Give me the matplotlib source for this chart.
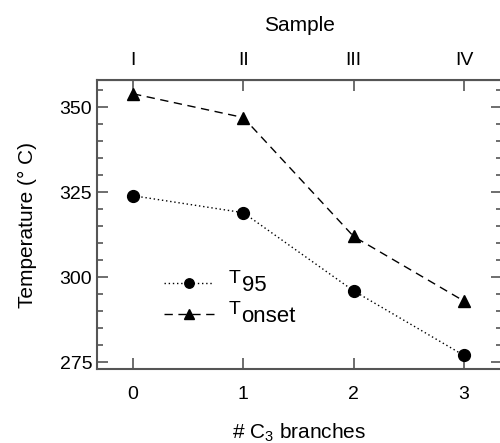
import numpy as np
import matplotlib
matplotlib.use('Agg')
import matplotlib.pyplot as plt
from matplotlib.ticker import MultipleLocator

plt.rcParams['font.family'] = ['Liberation Sans', 'DejaVu Sans']
plt.rcParams['mathtext.fontset'] = 'custom'
plt.rcParams['mathtext.rm'] = 'Liberation Sans'
plt.rcParams['mathtext.it'] = 'Liberation Sans'

branches = [0, 1, 2, 3]
samples = ['I', 'II', 'III', 'IV']
t95 = [324, 319, 296, 277]
tonset = [354, 347, 312, 293]
# legend: a small "T" followed by a full-size subscript, as in the original
series_sub = ['95', 'onset']

fig = plt.figure(figsize=(5.0, 4.43), dpi=100)
ax = fig.add_axes([0.194, 0.167, 0.81, 0.652])

ax.plot(branches, t95, color='black', linestyle=(0, (1, 2)), linewidth=1.0,
        marker='o', markersize=8.5, label=series_sub[0])
ax.plot(branches, tonset, color='black', linestyle=(0, (6, 4)), linewidth=1.0,
        marker='^', markersize=8.5, label=series_sub[1])

ax.set_xlim(-0.327, 3.345)
ax.set_ylim(273, 358)
ax.set_xticks(branches)
ax.yaxis.set_major_locator(MultipleLocator(25))
ax.yaxis.set_minor_locator(MultipleLocator(5))

spine_col = '#555555'
for s in ax.spines.values():
    s.set_color(spine_col)
    s.set_linewidth(1.5)

ax.tick_params(axis='both', which='major', direction='in', length=8, width=1.2,
               color=spine_col, labelsize=14, top=False, right=True)
ax.tick_params(axis='x', which='major', pad=12)
ax.tick_params(axis='y', which='minor', direction='in', length=4, width=1.2,
               color=spine_col, right=True)

ax.set_xlabel('# C$_3$ branches', fontsize=15, labelpad=14)
ax.set_ylabel('Temperature (° C)', fontsize=15, labelpad=16)

top = ax.secondary_xaxis('top')
top.set_xticks(branches)
top.set_xticklabels(samples)
top.tick_params(direction='in', length=8, width=1.2, color=spine_col,
                labelsize=14, pad=8)
top.spines['top'].set_color(spine_col)
top.set_xlabel('Sample', fontsize=15, labelpad=15)

leg = ax.legend(loc='upper left', bbox_to_anchor=(0.165, 0.325), frameon=False,
                fontsize=16, handlelength=2.25, handletextpad=1.25,
                labelspacing=0.45, borderpad=0, borderaxespad=0, markerscale=0.8)

fig.canvas.draw()
for txt in leg.get_texts():
    ax.annotate('T', xy=(0, 1), xycoords=txt, xytext=(-0.5, 3.5),
                textcoords='offset points', ha='right', va='top',
                fontsize=14, zorder=10)

fig.savefig('out.png', dpi=100)
